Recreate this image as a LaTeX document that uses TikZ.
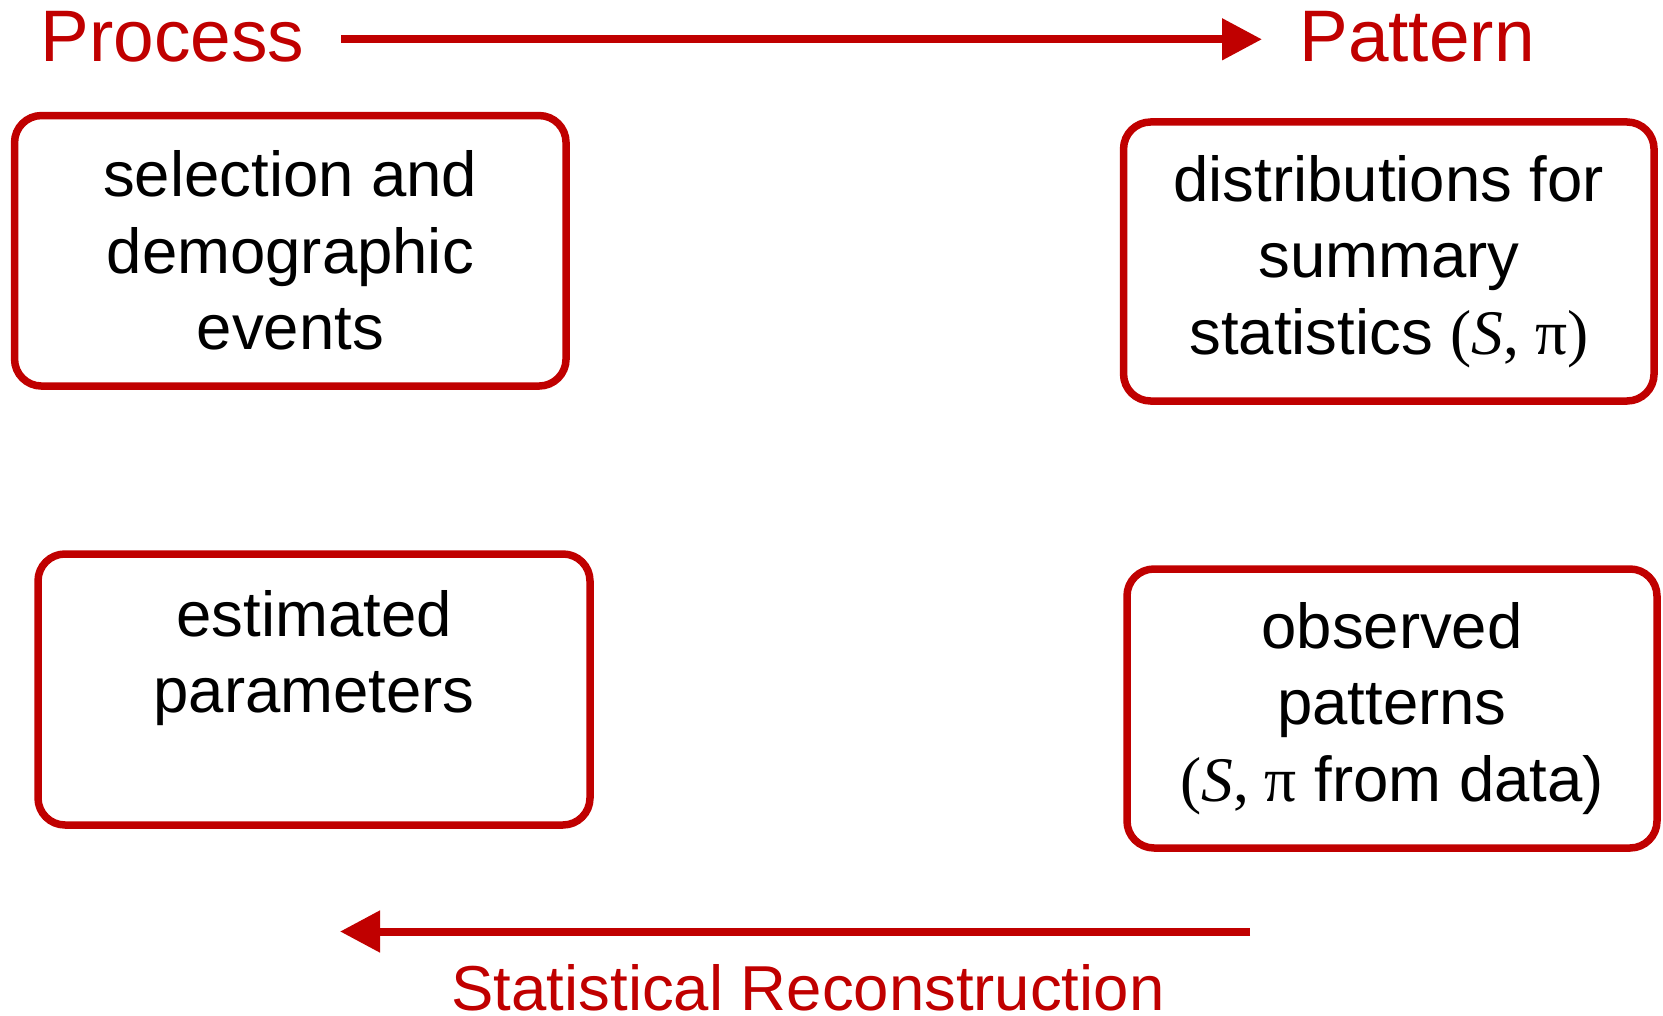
\documentclass[tikz,border=0pt]{standalone}
\usepackage{fontspec}
\setmainfont{Liberation Sans}
\newfontfamily\serifmath{Liberation Serif}
\usetikzlibrary{arrows.meta}
\definecolor{darkred}{HTML}{C00000}

\begin{document}
\begin{tikzpicture}[x=1pt,y=-1pt,
  box/.style={draw=darkred, line width=7.5pt, rounded corners=27pt,
    inner sep=0pt, align=center, text=black,
    font=\fontsize{63.5}{76.5}\selectfont},
  heading/.style={text=darkred, inner sep=0pt, anchor=base,
    font=\fontsize{73}{88}\selectfont},
  caption/.style={text=darkred, inner sep=0pt, anchor=base,
    font=\fontsize{63.5}{76}\selectfont},
  flow/.style={draw=darkred, line width=8pt,
    -{Triangle[length=40pt,width=40pt]}}]

% canvas
\useasboundingbox (0,0) rectangle (1663,1016);

% headings
\node[heading] (process) at (172.5,62) {Process};
\node[heading] (pattern) at (1417,61.7) {Pattern};
\node[caption] (recon) at (808,1010) {Statistical Reconstruction};

% boxes
\node[box, minimum width=551.5pt, minimum height=270.5pt] (events) at (290.3,250.8)
  {selection and\\demographic\\events};
\node[box, minimum width=530.5pt, minimum height=279pt] (dist) at (1388.8,261.5)
  {distributions for\\summary\\statistics {\serifmath(\textit{S},\ π)}};
\node[box, minimum width=552pt, minimum height=271pt] (est) at (314,689.5)
  {estimated\\parameters\\\mbox{}};
\node[box, minimum width=530pt, minimum height=279pt] (obs) at (1392,708.5)
  {observed\\patterns\\{\serifmath(\textit{S},\ π} from data)};

% arrows
\coordinate (topL) at (341,39.3);
\coordinate (topR) at (1262,39.3);
\coordinate (botR) at (1250,931.5);
\coordinate (botL) at (340,931.5);
\draw[flow] (topL) -- (topR);
\draw[flow] (botR) -- (botL);
\end{tikzpicture}
\end{document}
